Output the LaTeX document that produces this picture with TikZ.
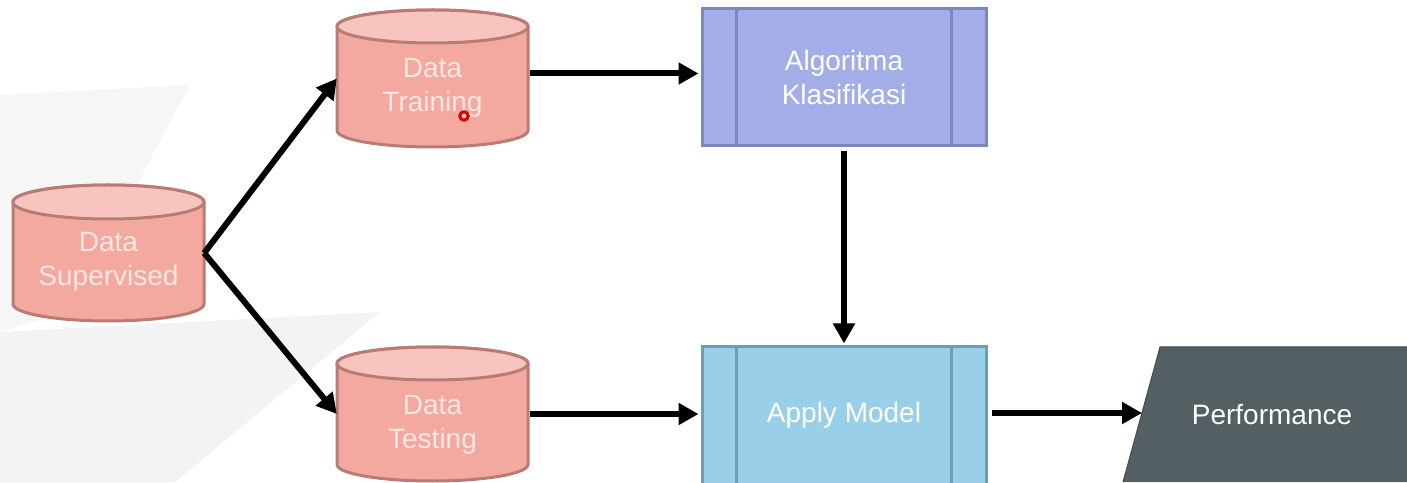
\documentclass[tikz,border=0pt]{standalone}
\usepackage{fontspec}
\setmainfont{Liberation Sans}
\usetikzlibrary{arrows.meta}

\definecolor{cylbody}{HTML}{F4A9A0}
\definecolor{cyltopc}{HTML}{F7C4BE}
\definecolor{cylline}{HTML}{B97B74}
\definecolor{cyltxt}{HTML}{FCE6E2}
\definecolor{algofill}{HTML}{A3AEE8}
\definecolor{algoline}{HTML}{7C88BD}
\definecolor{applyfill}{HTML}{99CFE8}
\definecolor{applyline}{HTML}{6E9DB5}
\definecolor{perffill}{HTML}{535F62}
\definecolor{wmA}{HTML}{F6F6F6}
\definecolor{wmB}{HTML}{F3F3F3}

\tikzset{
  cylshape/.style={fill=cylbody, draw=cylline, line width=3pt, line join=round},
  cyltop/.style={fill=cyltopc, draw=cylline, line width=3pt},
  cylbox/.style={inner sep=0pt, minimum width=191pt},
  labeltext/.style={align=center, font=\fontsize{28}{34}\selectfont, inner sep=0pt},
  cyltext/.style={labeltext, text=cyltxt},
  procbox/.style={draw, line width=3pt, inner sep=0pt, minimum width=284pt,
    minimum height=137pt, labeltext, text=white},
  flow/.style={line width=6pt, -{Triangle[length=20pt,width=21pt]}},
}

% cylinder outline: left, top, right, bottom, ellipse y radius
\newcommand\dbcylinder[5]{%
  \pgfmathsetmacro\cylcx{(#1+#3)/2}%
  \pgfmathsetmacro\cylrx{(#3-#1)/2}%
  \path[cylshape] (#1,#2-#5) -- (#1,#4+#5)
    arc[start angle=180,end angle=360,x radius=\cylrx,y radius=#5]
    -- (#3,#2-#5)
    arc[start angle=0,end angle=180,x radius=\cylrx,y radius=#5] -- cycle;
  \path[cyltop] (\cylcx,#2-#5) ellipse[x radius=\cylrx,y radius=#5];
}

\begin{document}
\begin{tikzpicture}[x=1pt,y=1pt]
\useasboundingbox (0,0) rectangle (1407,482);
\fill[white] (0,0) rectangle (1407,482);

% faint background facets
\fill[wmA] (0,387) -- (190,397) -- (70,172) -- (0,150) -- cycle;
\fill[wmB] (0,150) -- (380,170) -- (175,0) -- (0,0) -- cycle;

% storage cylinders
\dbcylinder{13}{297}{204}{161}{17}
\dbcylinder{337}{472}{528}{335}{16.5}
\dbcylinder{337}{135}{528}{1}{16.5}

\node[cylbox, minimum height=136pt] (sup) at (108.5,229) {};
\node[cyltext] (supt) at (108.5,220) {Data\\Supervised};
\node[cylbox, minimum height=137pt] (train) at (432.5,403.5) {};
\node[cyltext] (traint) at (432.5,394) {Data\\Training};
\node[cylbox, minimum height=134pt] (test) at (432.5,68) {};
\node[cyltext] (testt) at (432.5,57) {Data\\Testing};

% cursor mark
\filldraw[draw=red!85!black, fill=red!20, line width=3pt] (464,366) circle[radius=4.2];

% process boxes with side bars
\node[procbox, fill=algofill, draw=algoline] (algo) at (844,404.5) {Algoritma\\Klasifikasi};
\draw[algoline, line width=3pt] ([xshift=36]algo.north west) -- ([xshift=36]algo.south west)
  ([xshift=-36]algo.north east) -- ([xshift=-36]algo.south east);

\node[procbox, fill=applyfill, draw=applyline] (apply) at (844,66.5) {Apply Model};
\draw[applyline, line width=3pt] ([xshift=36]apply.north west) -- ([xshift=36]apply.south west)
  ([xshift=-36]apply.north east) -- ([xshift=-36]apply.south east);

% output parallelogram
\fill[perffill] (1123,0) -- (1160,135) -- (1445,135) -- (1408,0) -- cycle;
\draw[perffill!80!black, line width=1pt] (1123,0) -- (1160,135) -- (1445,135);
\node[labeltext, text=white] (perf) at (1272,67.5) {Performance};
\coordinate (perfin) at (1142,69);

% flow
\draw[flow] (sup.east) -- (train.west);
\draw[flow] (sup.east) -- (test.west);
\draw[flow, shorten <=2pt, shorten >=2pt] ([yshift=5]train.east) -- ([yshift=5]train.east -| algo.west);
\draw[flow, shorten <=4pt, shorten >=2pt] (algo.south) -- (apply.north);
\draw[flow, shorten <=2pt, shorten >=2pt] (test.east) -- (test.east -| apply.west);
\draw[flow, shorten <=4pt] (apply.east |- perfin) -- (perfin);
\end{tikzpicture}
\end{document}
